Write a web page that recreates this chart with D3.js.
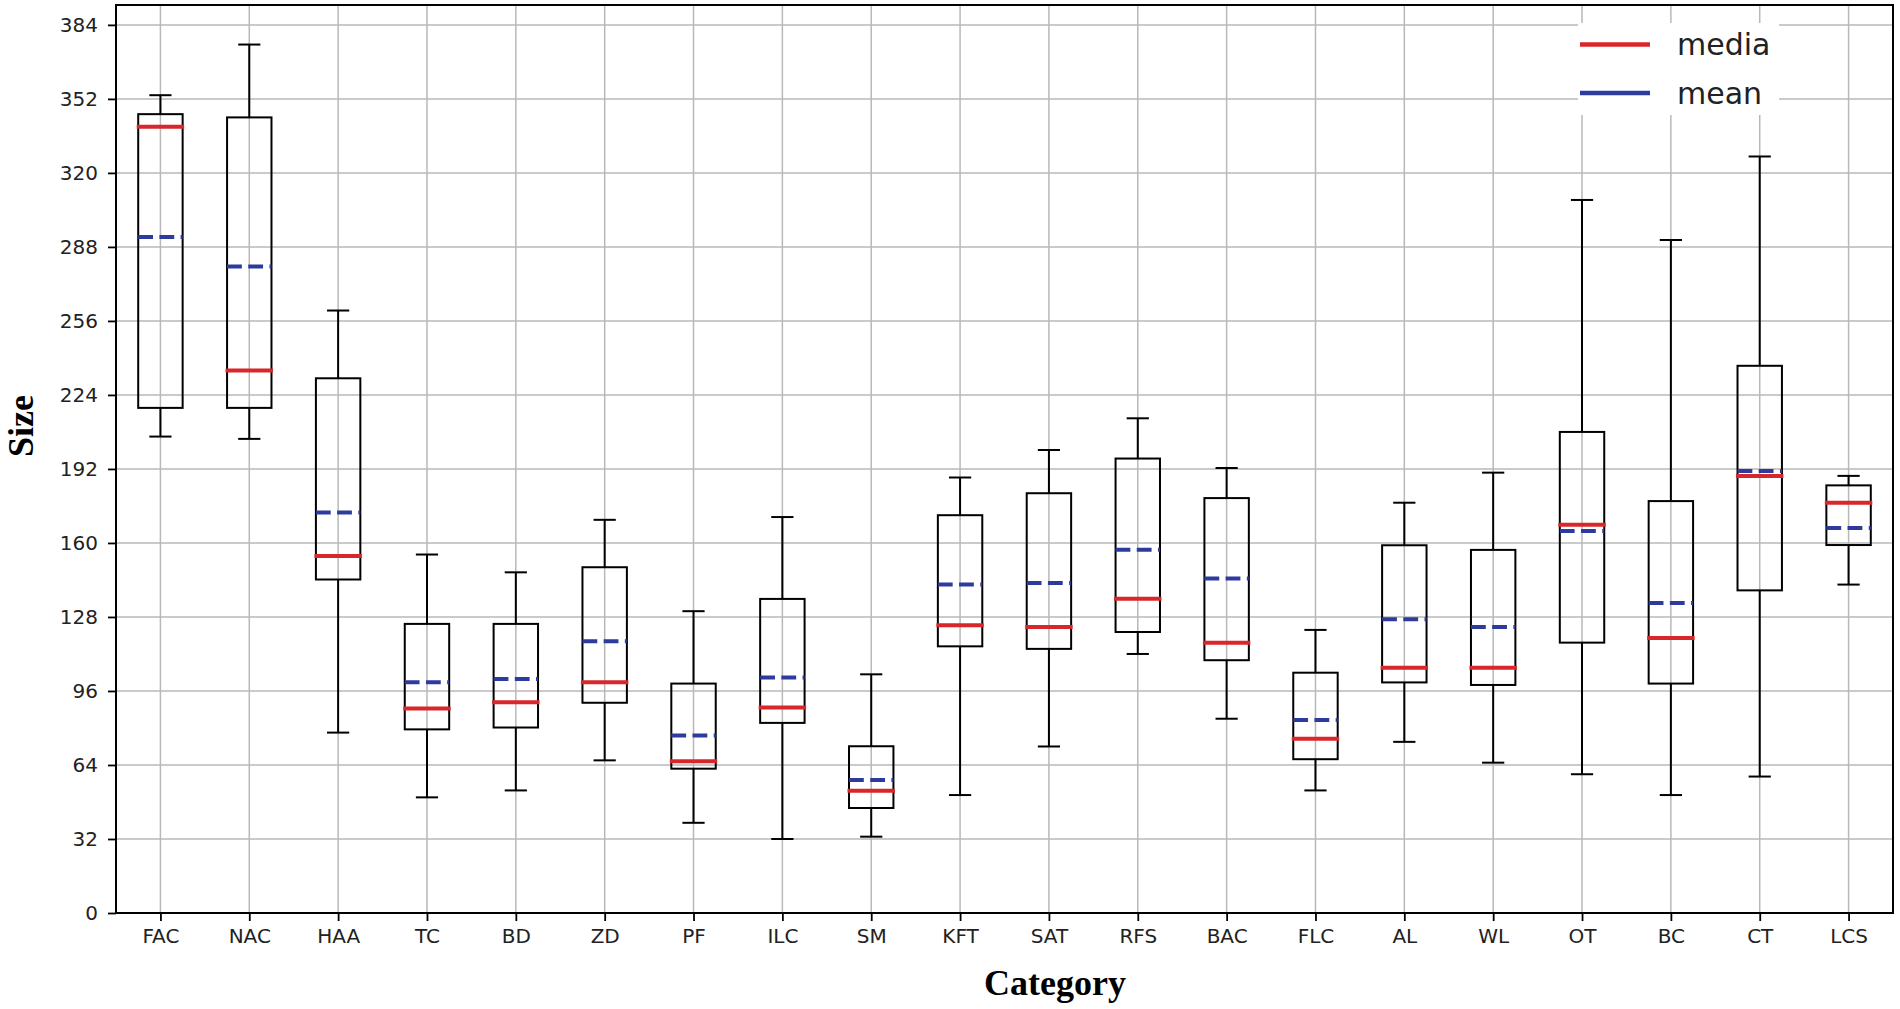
<!DOCTYPE html>
<html>
<head>
<meta charset="utf-8">
<script src="https://cdn.jsdelivr.net/npm/d3@7"></script>
<style>
  html, body { margin: 0; padding: 0; background: #fff; }
  svg { display: block; }
</style>
</head>
<body>
<svg id="chart" width="1900" height="1009"></svg>
<script>
// ---- data ----
const categories = ["FAC","NAC","HAA","TC","BD","ZD","PF","ILC","SM","KFT","SAT","RFS","BAC","FLC","AL","WL","OT","BC","CT","LCS"];
const whiskerLow  = [206, 205, 78, 50, 53, 66, 39, 32, 33, 51, 72, 112, 84, 53, 74, 65, 60, 51, 59, 142];
const q1          = [218.4, 218.4, 144.2, 79.4, 80.2, 90.9, 62.4, 82.2, 45.4, 115.3, 114.2, 121.5, 109.3, 66.5, 99.7, 98.6, 116.9, 99.2, 139.5, 159.1];
const medians     = [340, 234.6, 154.4, 88.4, 91.1, 99.8, 65.6, 88.9, 52.9, 124.4, 123.7, 135.9, 116.9, 75.3, 106, 106, 167.9, 118.9, 189, 177.4];
const means       = [292.3, 279.5, 173.2, 99.8, 101.2, 117.5, 76.7, 101.8, 57.5, 142, 142.7, 157.1, 144.6, 83.5, 127, 123.7, 165.2, 134, 191.1, 166.5];
const q3          = [345.4, 344, 231.2, 125, 125, 149.5, 99.2, 135.8, 72.1, 172, 181.5, 196.5, 179.4, 103.9, 159, 157, 208, 178.1, 236.6, 184.9];
const whiskerHigh = [353.6, 375.5, 260.5, 155, 147.3, 170, 130.5, 171.2, 103.2, 188.3, 200.2, 213.9, 192.4, 122.4, 177.4, 190.4, 308.3, 291, 327.1, 189];
const yTicks = [0, 32, 64, 96, 128, 160, 192, 224, 256, 288, 320, 352, 384];
const legendLabels = ["media", "mean"];

// ---- layout ----
const W = 1900, H = 1009;
const plot = { left: 116, top: 5, right: 1893, bottom: 913 };
const RED = "#d9262b", BLUE = "#2d3a9e";

const svg = d3.select("#chart");

const x = d3.scalePoint().domain(categories).range([plot.left, plot.right]).padding(0.5);
const y = d3.scaleLinear().domain([0, 392.6]).range([plot.bottom, plot.top]);
const step = x.step();
const boxW = step * 0.5, capW = step * 0.25;

const rows = categories.map((c, i) => ({
  c, lo: whiskerLow[i], q1: q1[i], med: medians[i], mean: means[i], q3: q3[i], hi: whiskerHigh[i]
}));

// grid
const grid = svg.append("g");
grid.selectAll("line.gy").data(yTicks).join("line")
  .attr("x1", plot.left).attr("x2", plot.right)
  .attr("y1", d => y(d)).attr("y2", d => y(d))
  .attr("stroke", "#b8b8b8").attr("stroke-width", 1.5);
grid.selectAll("line.gx").data(categories).join("line")
  .attr("x1", d => x(d)).attr("x2", d => x(d))
  .attr("y1", plot.top).attr("y2", plot.bottom)
  .attr("stroke", "#b8b8b8").attr("stroke-width", 1.5);

// boxes
const g = svg.append("g");
const bx = g.selectAll("g.box").data(rows).join("g");
// whiskers
bx.append("line").attr("x1", d => x(d.c)).attr("x2", d => x(d.c))
  .attr("y1", d => y(d.q3)).attr("y2", d => y(d.hi)).attr("stroke", "#000").attr("stroke-width", 2);
bx.append("line").attr("x1", d => x(d.c)).attr("x2", d => x(d.c))
  .attr("y1", d => y(d.q1)).attr("y2", d => y(d.lo)).attr("stroke", "#000").attr("stroke-width", 2);
// caps
bx.append("line").attr("x1", d => x(d.c) - capW / 2).attr("x2", d => x(d.c) + capW / 2)
  .attr("y1", d => y(d.hi)).attr("y2", d => y(d.hi)).attr("stroke", "#000").attr("stroke-width", 2);
bx.append("line").attr("x1", d => x(d.c) - capW / 2).attr("x2", d => x(d.c) + capW / 2)
  .attr("y1", d => y(d.lo)).attr("y2", d => y(d.lo)).attr("stroke", "#000").attr("stroke-width", 2);
// box
bx.append("rect").attr("x", d => x(d.c) - boxW / 2).attr("width", boxW)
  .attr("y", d => y(d.q3)).attr("height", d => y(d.q1) - y(d.q3))
  .attr("fill", "none").attr("stroke", "#000").attr("stroke-width", 2);
// mean (dashed blue)
bx.append("line").attr("x1", d => x(d.c) - boxW / 2).attr("x2", d => x(d.c) + boxW / 2)
  .attr("y1", d => y(d.mean)).attr("y2", d => y(d.mean))
  .attr("stroke", BLUE).attr("stroke-width", 4).attr("stroke-dasharray", "14.8,6.4");
// median (red)
bx.append("line").attr("x1", d => x(d.c) - boxW / 2 - 1.5).attr("x2", d => x(d.c) + boxW / 2 + 1.5)
  .attr("y1", d => y(d.med)).attr("y2", d => y(d.med))
  .attr("stroke", RED).attr("stroke-width", 4);

// axes
const fontTick = "'DejaVu Sans', sans-serif";
const yAxis = svg.append("g").attr("transform", `translate(${plot.left},0)`)
  .call(d3.axisLeft(y).tickValues(yTicks).tickSize(8).tickPadding(10));
const xAxis = svg.append("g").attr("transform", `translate(0,${plot.bottom})`)
  .call(d3.axisBottom(x).tickSize(8).tickPadding(8));
[yAxis, xAxis].forEach(a => {
  a.select(".domain").remove();
  a.selectAll(".tick line").attr("stroke", "#000").attr("stroke-width", 1.8);
  a.selectAll(".tick text").attr("font-family", fontTick).attr("font-size", 20).attr("fill", "#222");
});

// frame
svg.append("rect").attr("x", plot.left).attr("y", plot.top)
  .attr("width", plot.right - plot.left).attr("height", plot.bottom - plot.top)
  .attr("fill", "none").attr("stroke", "#000").attr("stroke-width", 2);

// axis titles
svg.append("text").attr("x", 1055).attr("y", 995).attr("text-anchor", "middle")
  .attr("font-family", "'Liberation Serif', 'Times New Roman', serif").attr("font-weight", "bold")
  .attr("font-size", 36).attr("fill", "#000").text("Category");
svg.append("text").attr("transform", "translate(33,426) rotate(-90)").attr("text-anchor", "middle")
  .attr("font-family", "'Liberation Serif', 'Times New Roman', serif").attr("font-weight", "bold")
  .attr("font-size", 36).attr("fill", "#000").text("Size");

// legend
const lg = svg.append("g");
lg.append("rect").attr("x", 1578).attr("y", 23).attr("width", 201).attr("height", 92).attr("fill", "#fff");
const legendColors = [RED, BLUE];
legendLabels.forEach((t, i) => {
  const yy = 44.5 + i * 48.5;
  lg.append("line").attr("x1", 1580).attr("x2", 1650).attr("y1", yy).attr("y2", yy)
    .attr("stroke", legendColors[i]).attr("stroke-width", 4.5);
  lg.append("text").attr("x", 1677).attr("y", yy + 10.5)
    .attr("font-family", fontTick).attr("font-size", 30).attr("fill", "#222").text(t);
});
</script>
</body>
</html>
